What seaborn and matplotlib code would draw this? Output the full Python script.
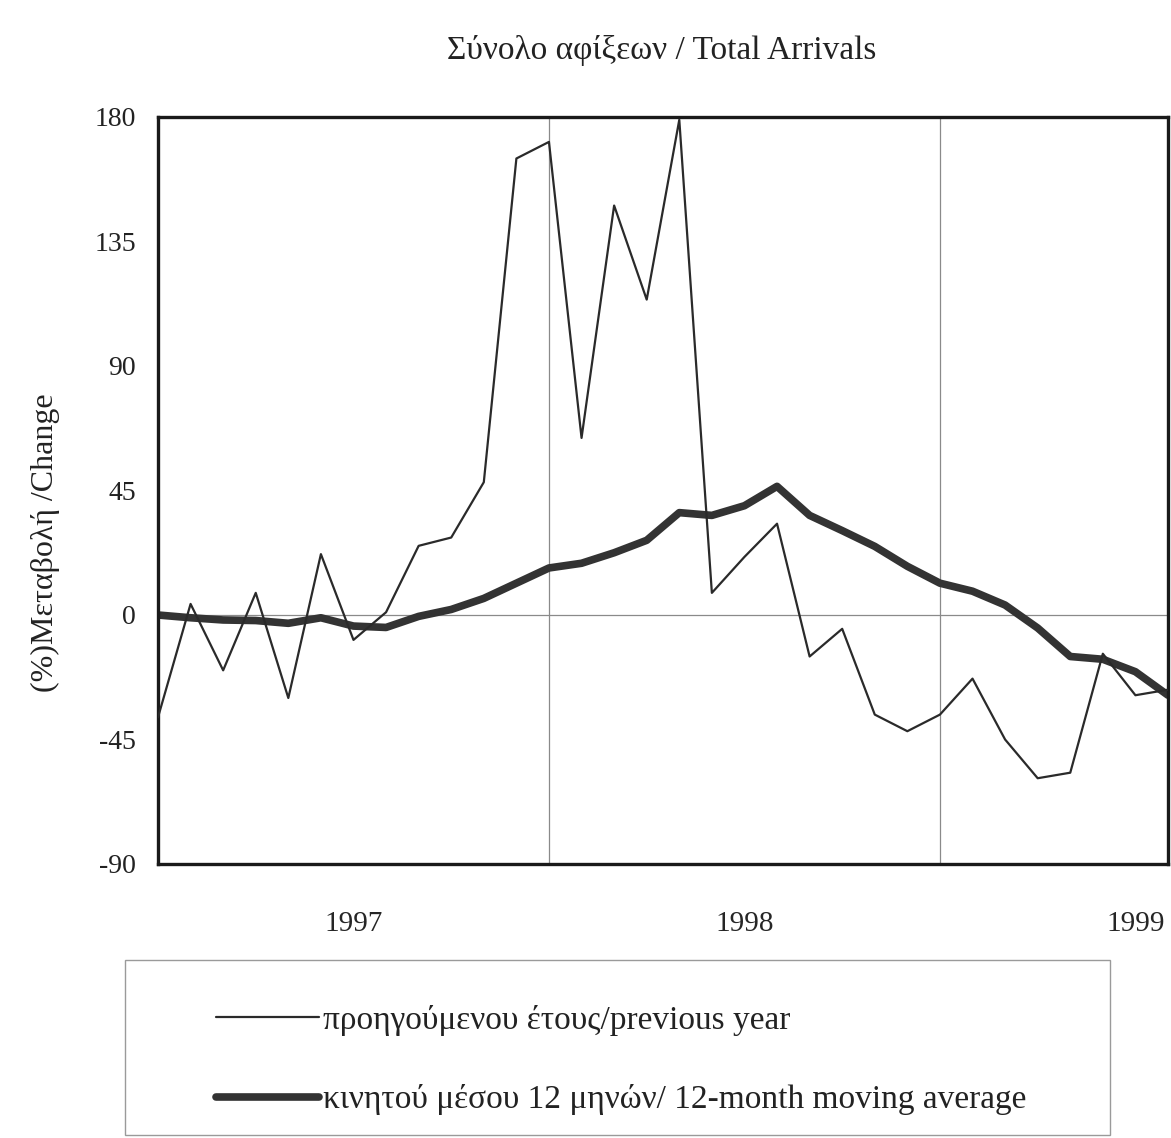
import matplotlib
matplotlib.use("Agg")
import matplotlib.pyplot as plt
import seaborn as sns
import numpy as np
import pandas as pd
from matplotlib.patches import Rectangle

# ---- data ----
months = list(range(32))  # Jan 1997 .. Aug 1999
prev_year = [-37, 4, -20, 8, -30, 22, -9, 1, 25, 28, 48, 165, 171, 64, 148, 114,
             179, 8, 21, 33, -15, -5, -36, -42, -36, -23, -45, -59, -57, -14, -29, -27]
moving_avg = [0, -1, -1.8, -2, -3, -1, -4, -4.5, -0.5, 2, 6, 11.5, 17, 18.7, 22.5, 27,
              37, 36, 39.5, 46.5, 36, 30.5, 24.8, 17.6, 11.5, 8.6, 3.6, -4.7, -15, -16, -20.5, -29]
year_ticks = [6, 18, 30]
year_labels = ["1997", "1998", "1999"]
year_bounds = [12, 24]
y_ticks = [180, 135, 90, 45, 0, -45, -90]

label_prev = "προηγούμενου έτους/previous year"
label_ma = "κινητού μέσου 12 μηνών/ 12-month moving average"
title = "Σύνολο αφίξεων / Total Arrivals"
ylabel = "(%)Μεταβολή /Change"

sns.set_theme(style="white")
plt.rcParams['font.family'] = ['Liberation Serif', 'DejaVu Serif']

W, H = 1171, 1138
fig = plt.figure(figsize=(W / 100, H / 100), dpi=100)
ax = fig.add_axes([158 / W, 1 - 864 / H, (1168 - 158) / W, (864 - 117) / H])

df = pd.DataFrame({"month": months, "prev": prev_year, "ma": moving_avg})

# grid lines
for b in year_bounds:
    ax.axvline(b, color="#8a8a8a", lw=0.9, zorder=0)
ax.axhline(0, color="#8a8a8a", lw=0.9, zorder=0)

sns.lineplot(data=df, x="month", y="prev", ax=ax, color="#2a2a2a", lw=1.6,
             label=label_prev, zorder=3)
sns.lineplot(data=df, x="month", y="ma", ax=ax, color="#333333", lw=5.5,
             label=label_ma, zorder=2)

ax.set_xlim(0, 31)
ax.set_ylim(-90, 180)
ax.set_yticks(y_ticks)
ax.set_yticklabels([str(v) for v in y_ticks], fontsize=20)
ax.set_xticks(year_ticks)
ax.set_xticklabels(year_labels, fontsize=21)
ax.tick_params(axis="x", length=0, pad=34)
ax.tick_params(axis="y", direction="in", length=5, width=0.8, pad=16, colors="#222222")
ax.set_xlabel("")
ax.set_ylabel(ylabel, fontsize=23, color="#222222")
ax.yaxis.set_label_coords(-0.097, 0.43)

for s in ax.spines.values():
    s.set_color("#1a1a1a")
    s.set_linewidth(2.4)
    s.set_visible(True)

fig.text(662 / W, 1 - 50 / H, title, ha="center", va="center", fontsize=24, color="#222222")

# legend box
fig.patches.append(Rectangle((125 / W, 1 - 1135 / H), (1110 - 125) / W, (1135 - 960) / H,
                             transform=fig.transFigure, fill=False, edgecolor="#9a9a9a", lw=1.0))
leg = ax.legend(loc="upper left", bbox_to_anchor=(216 / W, 1 - 1005 / H),
                bbox_transform=fig.transFigure, frameon=False, fontsize=24,
                handlelength=3.1, handletextpad=0.1, labelspacing=1.45,
                borderpad=0, borderaxespad=0)
for t in leg.get_texts():
    t.set_color("#222222")

fig.savefig("out.png", dpi=100)
